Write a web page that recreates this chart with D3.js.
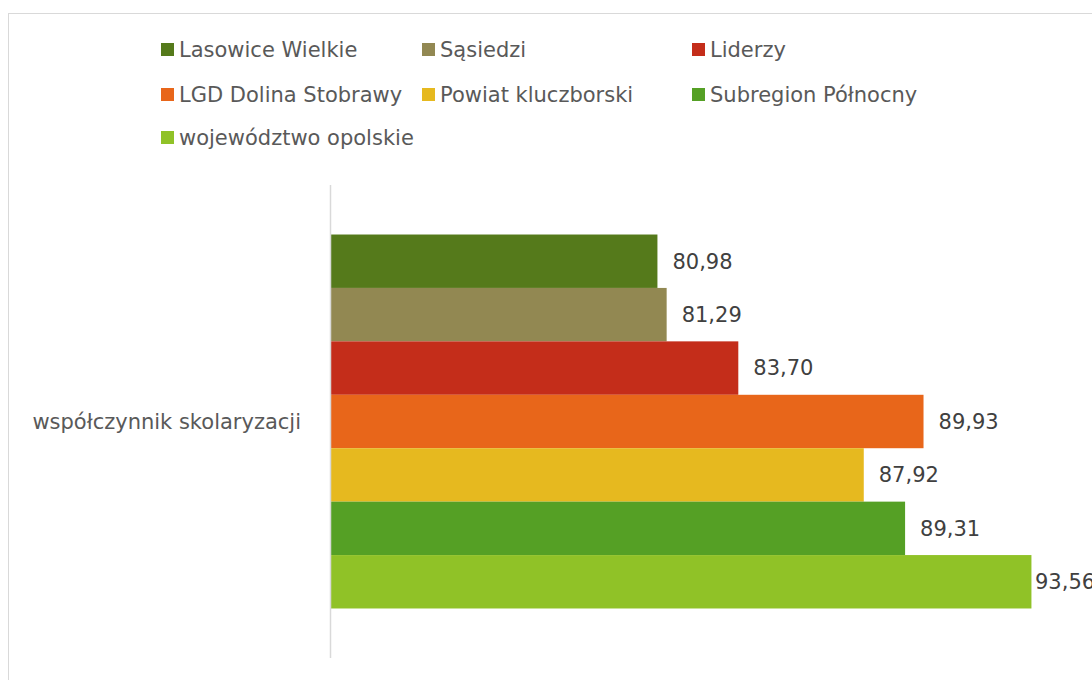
<!DOCTYPE html>
<html>
<head>
<meta charset="utf-8">
<script src="https://cdn.jsdelivr.net/npm/d3@7"></script>
<style>
  body { margin: 0; background: #fff; }
  svg { display: block; font-family: "DejaVu Sans", sans-serif; }
</style>
</head>
<body>
<svg id="chart" width="1092" height="680"></svg>
<script>
// Data
const category = "współczynnik skolaryzacji";
const seriesNames = [
    "Lasowice Wielkie", "Sąsiedzi", "Liderzy",
    "LGD Dolina Stobrawy", "Powiat kluczborski", "Subregion Północny",
    "województwo opolskie"
];
const seriesValues = [80.98, 81.29, 83.70, 89.93, 87.92, 89.31, 93.56];
const seriesColors = ["#557a1b", "#928852", "#c42d1a", "#e8661a", "#e6b91f", "#55a025", "#90c227"];

const width = 1092;
const height = 680;
const svg = d3.select("#chart");

// Outer chart border (runs off the right/bottom edge)
svg.append("rect")
    .attr("x", 8.5)
    .attr("y", 13.5)
    .attr("width", 1200)
    .attr("height", 800)
    .attr("fill", "none")
    .attr("stroke", "#d9d9d9")
    .attr("stroke-width", 1);

// Scales
const x = d3.scaleLinear()
    .domain([70, 100])
    .range([331, 331 + 30 * 29.73]);

const y0 = d3.scaleBand()
    .domain([category])
    .range([185, 658])
    .paddingInner(0)
    .paddingOuter(0.1324);

const y1 = d3.scaleBand()
    .domain(seriesNames)
    .range([0, y0.bandwidth()])
    .padding(0);

const fmt = v => d3.format(".2f")(v).replace(".", ",");

// Bars
const g = svg.append("g")
    .attr("transform", `translate(0,${y0(category)})`);

g.selectAll("rect.bar")
    .data(seriesNames)
    .join("rect")
    .attr("class", "bar")
    .attr("x", x(70))
    .attr("y", d => y1(d))
    .attr("width", (d, i) => x(seriesValues[i]) - x(70))
    .attr("height", y1.bandwidth())
    .attr("fill", (d, i) => seriesColors[i]);

// Data labels (pulled in a bit when they would run past the right edge)
g.selectAll("text.label")
    .data(seriesNames)
    .join("text")
    .attr("class", "label")
    .attr("x", (d, i) => Math.min(x(seriesValues[i]) + 15, width - 57))
    .attr("y", d => y1(d) + y1.bandwidth() / 2)
    .attr("dy", "0.35em")
    .style("font-size", "21px")
    .style("fill", "#404040")
    .text((d, i) => fmt(seriesValues[i]));

// Vertical axis line
svg.append("line")
    .attr("x1", 330.5)
    .attr("x2", 330.5)
    .attr("y1", 185)
    .attr("y2", 658)
    .attr("stroke", "#d9d9d9")
    .attr("stroke-width", 1.5);

// Category label
svg.append("text")
    .attr("x", 301)
    .attr("y", y0(category) + y0.bandwidth() / 2)
    .attr("dy", "0.35em")
    .attr("text-anchor", "end")
    .style("font-size", "21px")
    .style("fill", "#595959")
    .text(category);

// Legend
const legendCols = [161, 422, 692];
const legendRows = [50, 95, 138];
const legend = svg.append("g").attr("class", "legend");

const items = legend.selectAll("g.item")
    .data(seriesNames)
    .join("g")
    .attr("class", "item")
    .attr("transform", (d, i) => `translate(${legendCols[i % 3]},${legendRows[Math.floor(i / 3)]})`);

items.append("rect")
    .attr("x", 0)
    .attr("y", -7)
    .attr("width", 13)
    .attr("height", 13)
    .attr("fill", (d, i) => seriesColors[i]);

items.append("text")
    .attr("x", 18)
    .attr("y", 0)
    .attr("dy", "0.35em")
    .style("font-size", "21px")
    .style("fill", "#595959")
    .text(d => d);
</script>
</body>
</html>
